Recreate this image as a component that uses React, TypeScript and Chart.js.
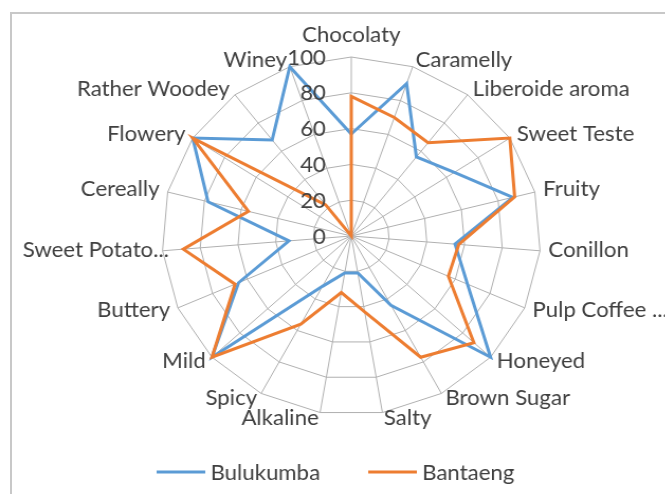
import React, { useEffect, useRef } from "react";
import { Chart, registerables } from "chart.js";

Chart.register(...registerables);

const CATEGORIES = [
  "Chocolaty",
  "Caramelly",
  "Liberoide aroma",
  "Sweet Teste",
  "Fruity",
  "Conillon",
  "Pulp Coffee ...",
  "Honeyed",
  "Brown Sugar",
  "Salty",
  "Alkaline",
  "Spicy",
  "Mild",
  "Buttery",
  "Sweet Potato...",
  "Cereally",
  "Flowery",
  "Rather Woodey",
  "Winey",
];
const BULUKUMBA = [57, 90, 56, 65, 88, 55, 67, 100, 44, 21, 21, 32, 100, 65, 33, 78, 100, 68, 100];
const BANTAENG = [78, 70, 66, 100, 89, 57, 56, 88, 77, 43, 32, 56, 100, 67, 89, 56, 100, 22, 0];
const TICK_VALUES = [0, 20, 40, 60, 80, 100];
const SERIES_NAMES = ["Bulukumba", "Bantaeng"];

const BLUE = "#5B9BD5";
const ORANGE = "#ED7D31";
const TEXT = "#404040";
const GRID = "#b0b0b0";
const FONT_SIZE = 21;
const FONT = `${FONT_SIZE}px Lato`;
const CAP = FONT_SIZE * 0.717;

const CW = 629;
const CH = 494;
const SX = 1.058;

const overlay = {
  id: "overlay",
  afterDraw(chart: any) {
    const ctx = chart.ctx;
    const sc = chart.scales.r;
    const R = sc.drawingArea;
    const xc = sc.xCenter;
    const yc = sc.yCenter;
    ctx.save();
    ctx.font = FONT;
    ctx.fillStyle = TEXT;
    ctx.textBaseline = "alphabetic";
    // tick labels
    ctx.textAlign = "right";
    TICK_VALUES.forEach((v) => {
      const d = sc.getDistanceFromCenterForValue(v);
      ctx.fillText(String(v), xc - 24, yc - d + CAP / 2);
    });
    // point labels
    CATEGORIES.forEach((label, i) => {
      const p = sc.getPointPosition(i, R);
      const a = sc.getIndexAngle(i);
      const s = Math.sin(a);
      const c = Math.cos(a);
      if (Math.abs(s) < 0.01 && c > 0) {
        ctx.textAlign = "center";
        ctx.fillText(label, p.x, p.y - 15);
        return;
      }
      ctx.textAlign = s > 0 ? "left" : "right";
      let x = p.x + 8 * s;
      if (s < 0 && label.endsWith("...")) x += 14;
      const capCenter = p.y - 6.5 * c - 1.5;
      ctx.fillText(label, x, capCenter + CAP / 2);
    });
    // legend
    const items = [
      { name: SERIES_NAMES[0], color: BLUE, x: 148 },
      { name: SERIES_NAMES[1], color: ORANGE, x: 348 },
    ];
    ctx.textAlign = "left";
    items.forEach((it) => {
      ctx.strokeStyle = it.color;
      ctx.lineWidth = 3;
      ctx.beginPath();
      ctx.moveTo(it.x, 472);
      ctx.lineTo(it.x + 46, 472);
      ctx.stroke();
      ctx.fillStyle = TEXT;
      ctx.fillText(it.name, it.x + 51, 480);
    });
    ctx.restore();
  },
};

export default function App() {
  const ref = useRef<HTMLCanvasElement | null>(null);
  useEffect(() => {
    if (!ref.current) return;
    const chart = new Chart(ref.current, {
      type: "radar",
      data: {
        labels: CATEGORIES,
        datasets: [
          {
            label: SERIES_NAMES[0],
            data: BULUKUMBA,
            borderColor: BLUE,
            backgroundColor: BLUE,
            borderWidth: 3,
            pointRadius: 0,
            fill: false,
            order: 1,
          },
          {
            label: SERIES_NAMES[1],
            data: BANTAENG,
            borderColor: ORANGE,
            backgroundColor: ORANGE,
            borderWidth: 3,
            pointRadius: 0,
            fill: false,
            order: 0,
          },
        ],
      },
      options: {
        responsive: false,
        animation: false,
        layout: { padding: { left: 153, top: 57, right: 117, bottom: 78 } },
        plugins: { legend: { display: false }, tooltip: { enabled: false } },
        scales: {
          r: {
            min: 0,
            max: 100,
            ticks: { stepSize: 20, display: false },
            grid: { color: GRID, lineWidth: 1 },
            angleLines: { color: GRID, lineWidth: 1 },
            pointLabels: { display: false },
          },
        },
      },
      plugins: [overlay],
    } as any);
    return () => chart.destroy();
  }, []);

  return (
    <div
      style={{
        position: "absolute",
        left: 0,
        top: 0,
        width: 665,
        height: 494,
        overflow: "hidden",
        background: "#fff",
      }}
    >
      <div
        style={{
          position: "absolute",
          left: 10,
          top: 12,
          width: 720,
          height: 620,
          border: "2px solid #c8c8c8",
        }}
      />
      <div
        style={{
          position: "absolute",
          left: 0,
          top: 0,
          width: CW,
          height: CH,
          transform: `scaleX(${SX})`,
          transformOrigin: "0 0",
        }}
      >
        <canvas ref={ref} width={CW} height={CH} style={{ width: CW, height: CH, display: "block" }} />
      </div>
    </div>
  );
}
